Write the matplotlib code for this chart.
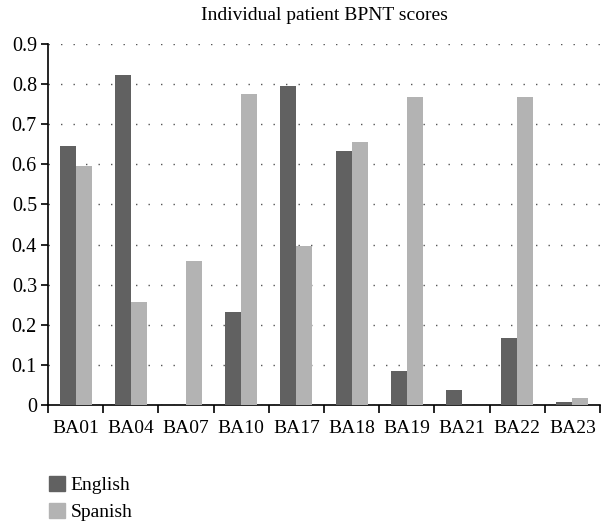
import numpy as np
import matplotlib.pyplot as plt
from matplotlib.patches import Patch

patients = ['BA01', 'BA04', 'BA07', 'BA10', 'BA17', 'BA18', 'BA19', 'BA21', 'BA22', 'BA23']
english = [0.645, 0.823, 0.0, 0.231, 0.795, 0.633, 0.085, 0.037, 0.167, 0.008]
spanish = [0.597, 0.258, 0.360, 0.775, 0.397, 0.655, 0.769, 0.0, 0.768, 0.018]
yticks = [0, 0.1, 0.2, 0.3, 0.4, 0.5, 0.6, 0.7, 0.8, 0.9]

dark = '#616161'
light = '#b3b3b3'

plt.rcParams['font.family'] = ['Liberation Serif', 'DejaVu Serif']

fig = plt.figure(figsize=(6.01, 5.23), dpi=100)
ax = fig.add_axes([48 / 601, 118 / 523, 552 / 601, 361 / 523])

x = np.arange(len(patients))
w = 0.29
ax.bar(x - w / 2, english, width=w, color=dark, zorder=3)
ax.bar(x + w / 2, spanish, width=w, color=light, zorder=3)

ax.set_xlim(-0.5, len(patients) - 0.5)
ax.set_ylim(0, 0.9)
ax.set_yticks(yticks)
ax.set_yticklabels(['0'] + ['%.1f' % v for v in yticks[1:]], fontsize=14.5)
ax.set_xticks(x)
ax.set_xticklabels(patients, fontsize=14)
ax.set_xticks(np.arange(len(patients) + 1) - 0.5, minor=True)
ax.tick_params(axis='x', which='major', length=0, pad=11)
ax.tick_params(axis='x', which='minor', length=6, width=1.2, direction='out')
ax.tick_params(axis='y', length=5, width=1.2, direction='out', pad=3)

ax.yaxis.grid(True, linestyle=(0, (1, 8)), color='#555555', linewidth=1.0)
for s in ['top', 'right']:
    ax.spines[s].set_visible(False)
ax.spines['left'].set_linewidth(1.2)
ax.spines['bottom'].set_linewidth(1.2)

ax.set_title('Individual patient BPNT scores', fontsize=14, pad=17)

handles = [Patch(color=dark, label='English'), Patch(color=light, label='Spanish')]
fig.legend(handles=handles, loc='upper left', bbox_to_anchor=(31 / 601, 1 - 458 / 523),
           frameon=False, fontsize=14, handlelength=0.85, handleheight=0.85,
           handletextpad=0.3, labelspacing=0.45)

fig.savefig('out.png', dpi=100)
